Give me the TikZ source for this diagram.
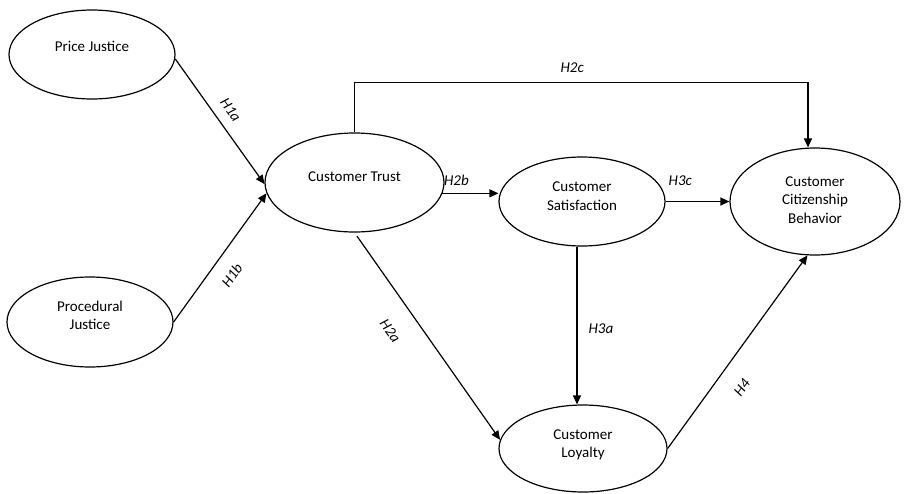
\documentclass[tikz,border=0pt]{standalone}
\usepackage{fontspec}
\setmainfont{Carlito}
\usetikzlibrary{shapes.geometric,arrows.meta}

\begin{document}
\begin{tikzpicture}[x=1pt, y=-1pt, line width=1.2pt,
    construct/.style={shape=ellipse, draw, inner sep=0pt, align=center,
      font=\fontsize{15}{18.5}\selectfont},
    link/.style={-{Triangle[length=9pt,width=8pt]}},
    hyp/.style={font=\fontsize{15}{17}\selectfont\itshape, inner sep=2pt}]
    \useasboundingbox (0,0) rectangle (904,493);
    % constructs
    \node[construct, minimum width=166pt, minimum height=89pt, text height=10pt, text depth=16.7pt] (PJ) at (92,54.5) {Price Justice};
    \node[construct, minimum width=166pt, minimum height=90pt, text height=28.5pt, text depth=12.7pt] (PR) at (90,322) {Procedural\\Justice};
    \node[construct, minimum width=179pt, minimum height=99pt, text height=10pt, text depth=13pt] (CT) at (354.5,182.5) {Customer Trust};
    \node[construct, minimum width=166pt, minimum height=89pt, text height=28.5pt, text depth=11.3pt] (CS) at (582,201.5) {Customer\\Satisfaction};
    \node[construct, minimum width=170pt, minimum height=107pt, text height=47pt, text depth=3.1pt] (CCB) at (815,201.5) {Customer\\Citizenship\\Behavior};
    \node[construct, minimum width=168pt, minimum height=87pt, text height=28.5pt, text depth=9.7pt] (CL) at (583,448.5) {Customer\\Loyalty};
    % hypotheses
    \draw[link] (PJ.-3) -- (CT.181) node[hyp, sloped, above=8pt, pos=.48] {H1a};
    \draw[link] (PR.east) -- (CT.187) node[hyp, sloped, below=12pt, pos=.455] {H1b};
    \draw[link] (CT.north) -- ++(0,-50) -| ([xshift=-7pt]CCB.north) node[hyp, pos=.24, above=7.5pt] {H2c};
    \draw[link] (CT.-7) -- (CT.-7 -| CS.west) node[hyp, pos=.25, above=5pt] {H2b};
    \draw[link] (CS.east) -- (CCB.west) node[hyp, pos=.23, above=13pt] {H3c};
    \draw[link] ([xshift=-5pt]CS.south) -- ([xshift=-5pt]CS.south |- CL.north) node[hyp, pos=.52, right=9pt] {H3a};
    \draw[link, shorten <=4pt] (CT.south) -- (CL.174) node[hyp, sloped, below=20pt, pos=.4] {H2a};
    \draw[link] (CL.east) -- (CCB.262) node[hyp, sloped, below=17pt, pos=.39] {H4};
\end{tikzpicture}
\end{document}
